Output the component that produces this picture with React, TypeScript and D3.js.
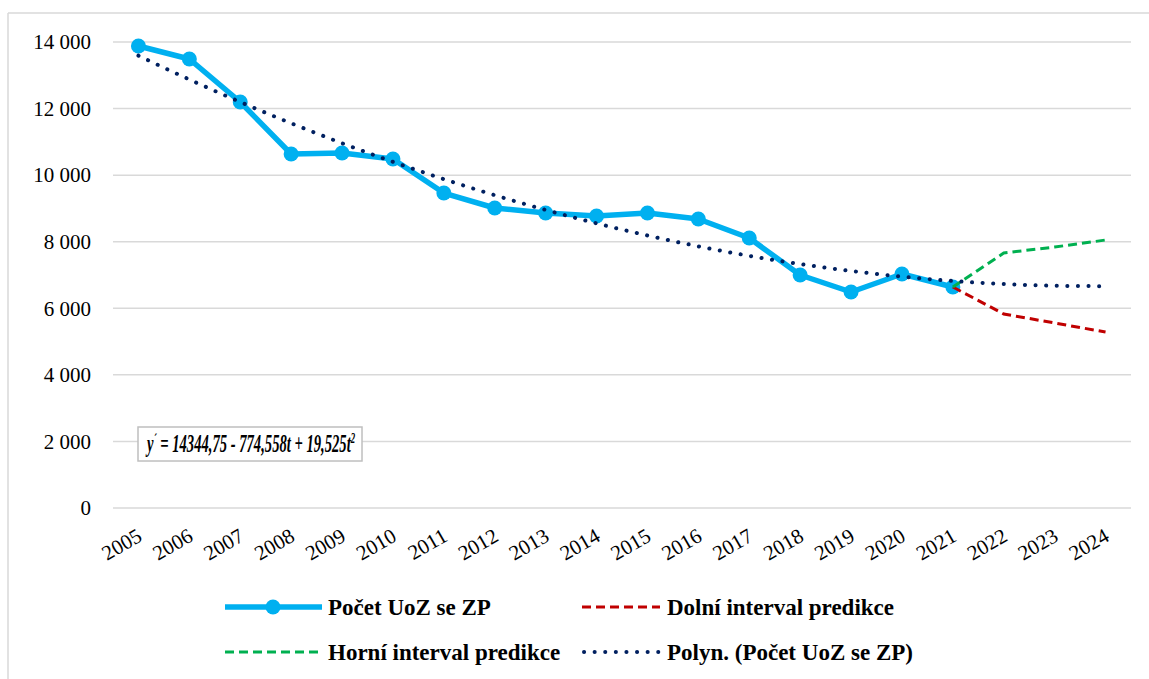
import React from "react";
import * as d3 from "d3";

const years = ["2005","2006","2007","2008","2009","2010","2011","2012","2013","2014","2015","2016","2017","2018","2019","2020","2021","2022","2023","2024"];
const actual = [13880, 13490, 12197, 10635, 10665, 10485, 9463, 9013, 8862, 8772, 8862, 8682, 8111, 7000, 6489, 7030, 6639];
const lowerYears = ["2021","2022","2023","2024"];
const lower = [6639, 5828, 5558, 5287];
const upper = [6639, 7661, 7840, 8051];
const trend = [13590, 12874, 12197, 11559, 10960, 10400, 9880, 9398, 8955, 8552, 8187, 7862, 7575, 7328, 7120, 6950, 6820, 6729, 6677, 6664];
const yTicks = [0, 2000, 4000, 6000, 8000, 10000, 12000, 14000];
const tickLabels = ["0", "2 000", "4 000", "6 000", "8 000", "10 000", "12 000", "14 000"];

const W = 1149, H = 679;
const font = "'Times New Roman', Tinos, 'Liberation Serif', 'DejaVu Serif', serif";

export default function App() {
  const x = d3.scaleBand().domain(years).range([113, 1131]);
  const cx = (yr: string) => (x(yr) as number) + x.bandwidth() / 2;
  const y = d3.scaleLinear().domain([0, 14000]).range([508, 42]);

  const line = d3.line<[string, number]>().x(d => cx(d[0])).y(d => y(d[1]));
  const smooth = d3.line<[string, number]>().x(d => cx(d[0])).y(d => y(d[1])).curve(d3.curveMonotoneX);

  const actPts: [string, number][] = actual.map((v, i) => [years[i], v]);
  const lowPts: [string, number][] = lower.map((v, i) => [lowerYears[i], v]);
  const upPts: [string, number][] = upper.map((v, i) => [lowerYears[i], v]);
  const trPts: [string, number][] = trend.map((v, i) => [years[i], v]);

  return (
    <svg width={W} height={H} style={{ position: "absolute", left: 0, top: 0, background: "#fff", fontFamily: font }}>
      <rect x={0} y={0} width={W} height={H} fill="#fff" />
      <line x1={8} y1={13} x2={W} y2={13} stroke="#d9d9d9" strokeWidth={1.5} />
      <line x1={8} y1={13} x2={8} y2={H} stroke="#d9d9d9" strokeWidth={1.5} />
      {yTicks.map((t, i) => (
        <g key={t}>
          <line x1={113} x2={1131} y1={y(t)} y2={y(t)} stroke="#d9d9d9" strokeWidth={1.5} />
          <text x={91} y={y(t)} dy="0.35em" textAnchor="end" fontSize={21} fill="#000">{tickLabels[i]}</text>
        </g>
      ))}
      {years.map(yr => (
        <text key={yr} transform={`translate(${cx(yr) + 5},${540}) rotate(-30)`} textAnchor="end" fontSize={21} fill="#000">{yr}</text>
      ))}
      <path d={line(actPts) || ""} fill="none" stroke="#00b0f0" strokeWidth={5.5} strokeLinejoin="round" />
      {actPts.map(p => (
        <circle key={p[0]} cx={cx(p[0])} cy={y(p[1])} r={7.5} fill="#00b0f0" />
      ))}
      <path d={line(lowPts) || ""} fill="none" stroke="#c00000" strokeWidth={3} strokeDasharray="9 5" />
      <path d={line(upPts) || ""} fill="none" stroke="#00b050" strokeWidth={3} strokeDasharray="9 5" />
      <path d={smooth(trPts) || ""} fill="none" stroke="#002060" strokeWidth={4} strokeLinecap="round" strokeDasharray="0.1 10.5" />

      <rect x={138} y={427} width={224} height={34} fill="#fff" stroke="#bfbfbf" strokeWidth={1.5} />
      <g transform="translate(147,452) scale(0.585,1)">
        <text x={0} y={0} fontSize={25} fontWeight="bold" fontStyle="italic" fill="#000">
          y<tspan dy={-7} fontSize={16}>´</tspan><tspan dy={7}> = 14344,75 - 774,558t + 19,525t</tspan><tspan dy={-9} fontSize={15}>2</tspan>
        </text>
      </g>

      <g fontSize={23} fontWeight="bold" fill="#000">
        <line x1={225} x2={322} y1={607} y2={607} stroke="#00b0f0" strokeWidth={5.5} />
        <circle cx={273} cy={607} r={7.5} fill="#00b0f0" />
        <text x={328} y={607} dy="0.35em">Počet UoZ se ZP</text>
        <line x1={582} x2={660} y1={607} y2={607} stroke="#c00000" strokeWidth={3} strokeDasharray="9 5" />
        <text x={667} y={607} dy="0.35em">Dolní interval predikce</text>
        <line x1={225} x2={322} y1={652} y2={652} stroke="#00b050" strokeWidth={3} strokeDasharray="9 5" />
        <text x={328} y={652} dy="0.35em">Horní interval predikce</text>
        <line x1={584} x2={660} y1={652} y2={652} stroke="#002060" strokeWidth={4} strokeLinecap="round" strokeDasharray="0.1 10.5" />
        <text x={667} y={652} dy="0.35em">Polyn. (Počet UoZ se ZP)</text>
      </g>
    </svg>
  );
}
